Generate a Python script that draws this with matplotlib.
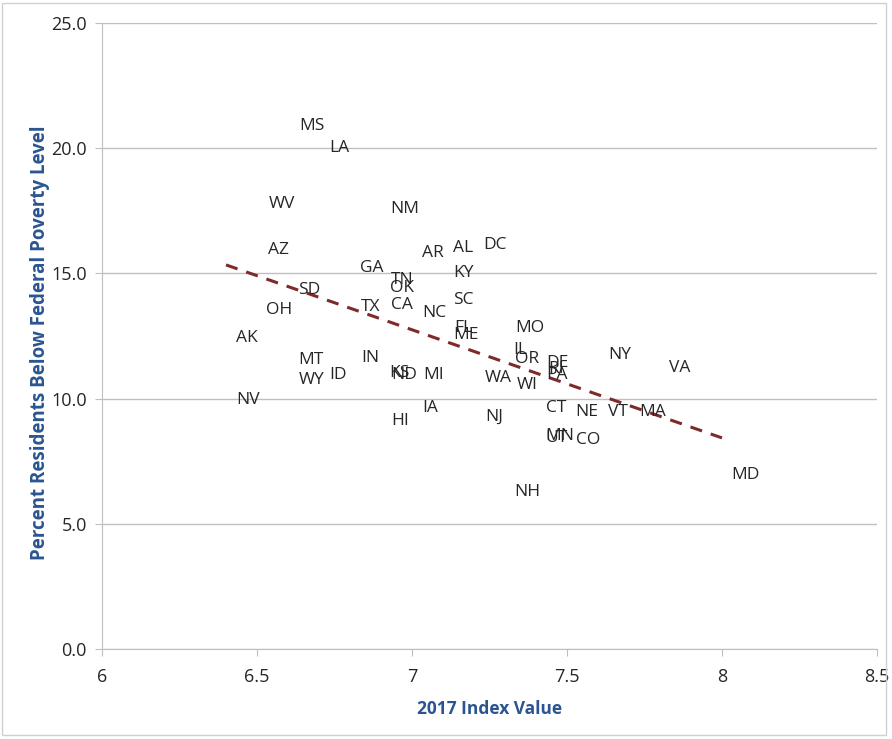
import numpy as np
import matplotlib.pyplot as plt
from matplotlib.patches import Rectangle

# etiquetas de los estados y sus valores
states = ['MS', 'LA', 'WV', 'NM', 'AZ', 'AR', 'AL', 'DC', 'GA', 'TN', 'KY', 'OK', 'SD',
          'SC', 'OH', 'TX', 'CA', 'NC', 'FL', 'ME', 'MO', 'AK', 'IL', 'OR', 'MT', 'IN',
          'DE', 'RI', 'NY', 'VA', 'PA', 'KS', 'ND', 'MI', 'ID', 'WY', 'WA', 'WI', 'NV',
          'IA', 'CT', 'NE', 'VT', 'MA', 'NJ', 'HI', 'MN', 'UT', 'CO', 'MD', 'NH']
index_2017 = [6.677, 6.765, 6.581, 6.977, 6.568, 7.068, 7.165, 7.268, 6.871, 6.968, 7.165,
              6.968, 6.668, 7.165, 6.571, 6.865, 6.968, 7.071, 7.165, 7.174, 7.381, 6.468,
              7.348, 7.371, 6.674, 6.865, 7.468, 7.465, 7.671, 7.865, 7.468, 6.961, 6.974,
              7.068, 6.761, 6.677, 7.277, 7.371, 6.471, 7.058, 7.465, 7.565, 7.665, 7.777,
              7.265, 6.961, 7.477, 7.465, 7.568, 8.077, 7.371]
poverty = [20.97, 20.09, 17.85, 17.65, 16.01, 15.89, 16.09, 16.21, 15.30, 14.82, 15.10,
           14.50, 14.42, 14.02, 13.62, 13.74, 13.82, 13.50, 12.90, 12.62, 12.90, 12.50,
           12.02, 11.66, 11.62, 11.70, 11.50, 11.25, 11.82, 11.30, 11.02, 11.10, 11.02,
           11.02, 11.02, 10.82, 10.90, 10.62, 10.02, 9.70, 9.70, 9.54, 9.54, 9.54,
           9.35, 9.19, 8.59, 8.51, 8.43, 7.03, 6.35]

# extremos de la linea de tendencia
trend_x = [6.4, 8.0]
trend_y = [15.34, 8.43]

x_ticks = [6, 6.5, 7, 7.5, 8, 8.5]
y_ticks = [0, 5, 10, 15, 20, 25]

plt.rcParams['font.family'] = ['Open Sans', 'DejaVu Sans']

fig = plt.figure(figsize=(8.92, 7.39), dpi=100)
ax = fig.add_axes([102 / 892, 1 - 649 / 739, 775 / 892, 626 / 739])

# borde exterior gris claro
fig.patches.append(Rectangle((2 / 892, 4 / 739), 884 / 892, 732 / 739, transform=fig.transFigure,
                             fill=False, edgecolor='#d0d0d0', lw=1))

for s, x, y in zip(states, index_2017, poverty):
    ax.text(x, y, s, ha='center', va='center_baseline', fontsize=12.5, color='#262626')

# linea de tendencia
ax.plot(trend_x, trend_y, ls=(0, (4, 3)), color='#7f2a2a', lw=2.2)

ax.set_xlim(6, 8.5)
ax.set_ylim(0, 25)
ax.set_xticks(x_ticks)
ax.set_xticklabels(['6', '6.5', '7', '7.5', '8', '8.5'])
ax.set_yticks(y_ticks)
ax.set_yticklabels(['%.1f' % v for v in y_ticks])
ax.yaxis.grid(True, color='#bfbfbf', lw=1)
ax.set_axisbelow(True)
for sp in ['top', 'right']:
    ax.spines[sp].set_visible(False)
ax.spines['left'].set_color('#bfbfbf')
ax.spines['bottom'].set_color('#bfbfbf')
ax.tick_params(axis='both', colors='#bfbfbf', labelcolor='#262626', labelsize=13, length=5)
ax.tick_params(axis='x', pad=9)
ax.tick_params(axis='y', pad=6)

ax.set_xlabel('2017 Index Value', fontsize=12.5, fontweight='bold', color='#2a5590', labelpad=10)
ax.set_ylabel('Percent Residents Below Federal Poverty Level', fontsize=13.5, fontweight='bold',
              color='#2a5590')
ax.yaxis.set_label_coords(-52 / 775, 0.49)

fig.savefig('out.png', dpi=100)
